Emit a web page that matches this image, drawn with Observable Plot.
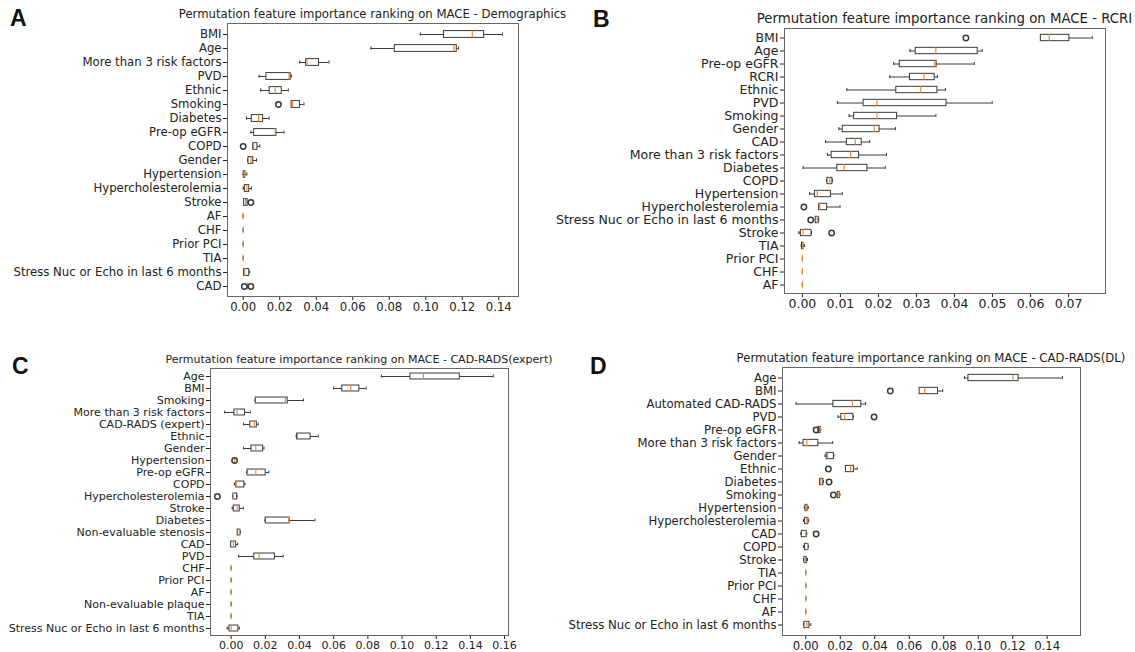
<!DOCTYPE html>
<html><head><meta charset="utf-8">
<script src="https://cdn.jsdelivr.net/npm/d3@7"></script>
<script src="https://cdn.jsdelivr.net/npm/@observablehq/plot@0.6"></script>
<style>
body{margin:0;background:#fff;}
#wrap{position:relative;width:1135px;height:652px;overflow:hidden;background:#fff;}
.panel{position:absolute;}
.title{position:absolute;white-space:nowrap;transform:translateX(-50%);color:#222;font-family:"DejaVu Sans",sans-serif;line-height:1;}
.letter{position:absolute;font-family:"Liberation Sans",Arial,sans-serif;font-weight:bold;font-size:23px;line-height:1;color:#111;}
</style></head><body><div id="wrap"></div>
<script>
// ---------- Panel A: Demographics ----------
const featuresA = ["BMI","Age","More than 3 risk factors","PVD","Ethnic","Smoking","Diabetes","Pre-op eGFR","COPD","Gender","Hypertension","Hypercholesterolemia","Stroke","AF","CHF","Prior PCI","TIA","Stress Nuc or Echo in last 6 months","CAD"];
// [whisker low, q1, median, q3, whisker high]
const statsA = [
  [0.097,0.110,0.1255,0.132,0.142],
  [0.070,0.083,0.1155,0.117,0.118],
  [0.031,0.0345,0.035,0.0415,0.047],
  [0.0087,0.0127,0.0251,0.026,0.0264],
  [0.0096,0.0145,0.0175,0.0211,0.0247],
  [0.0265,0.0265,0.0271,0.0311,0.0333],
  [0.0018,0.0047,0.0084,0.0109,0.0142],
  [0.0042,0.006,0.0175,0.0182,0.0224],
  [0.0055,0.0055,0.0057,0.0078,0.0091],
  [0.0024,0.0029,0.0042,0.0055,0.0073],
  [0.0,0.0003,0.0005,0.0012,0.002],
  [0.0,0.0009,0.002,0.0033,0.0045],
  [0.0002,0.0005,0.0013,0.0024,0.0027],
  [0,0,0,0,0],[0,0,0,0,0],[0,0,0,0,0],[0,0,0,0,0],
  [0.0004,0.0005,0.0009,0.0033,0.0035],
  [0.0024,0.0024,0.0024,0.0024,0.0024]
];
const outliersA = [["Smoking",0.0193],["COPD",0.0],["Stroke",0.0042],["CAD",0.0006],["CAD",0.0042]];
const ticksA = [0,0.02,0.04,0.06,0.08,0.10,0.12,0.14];

// ---------- Panel B: RCRI ----------
const featuresB = ["BMI","Age","Pre-op eGFR","RCRI","Ethnic","PVD","Smoking","Gender","CAD","More than 3 risk factors","Diabetes","COPD","Hypertension","Hypercholesterolemia","Stress Nuc or Echo in last 6 months","Stroke","TIA","Prior PCI","CHF","AF"];
const statsB = [
  [0.0627,0.0627,0.0649,0.0702,0.0762],
  [0.0283,0.0298,0.0351,0.0461,0.0473],
  [0.024,0.0256,0.0348,0.0353,0.0452],
  [0.023,0.0283,0.032,0.0348,0.0355],
  [0.0117,0.0247,0.0311,0.0355,0.0376],
  [0.0092,0.0161,0.0196,0.0379,0.0499],
  [0.0123,0.0136,0.0196,0.0249,0.0351],
  [0.0096,0.0106,0.0189,0.0203,0.0245],
  [0.0061,0.0117,0.0139,0.0156,0.0177],
  [0.0066,0.0077,0.0127,0.0149,0.0221],
  [0.0002,0.0092,0.011,0.0171,0.0218],
  [0.0064,0.0066,0.0072,0.0079,0.0079],
  [0.0019,0.0033,0.0039,0.0075,0.0105],
  [0.0044,0.0044,0.0046,0.0065,0.0099],
  [0.0035,0.0035,0.0039,0.0043,0.0043],
  [-0.0009,-0.0004,0.0002,0.0024,0.0024],
  [-0.0003,-0.0001,0.0001,0.0003,0.0006],
  [0,0,0,0,0],[0,0,0,0,0],[0,0,0,0,0]
];
const outliersB = [["BMI",0.043],["Hypercholesterolemia",0.0004],["Stress Nuc or Echo in last 6 months",0.0022],["Stroke",0.0077]];
const ticksB = [0,0.01,0.02,0.03,0.04,0.05,0.06,0.07];

// ---------- Panel C: CAD-RADS(expert) ----------
const featuresC = ["Age","BMI","Smoking","More than 3 risk factors","CAD-RADS (expert)","Ethnic","Gender","Hypertension","Pre-op eGFR","COPD","Hypercholesterolemia","Stroke","Diabetes","Non-evaluable stenosis","CAD","PVD","CHF","Prior PCI","AF","Non-evaluable plaque","TIA","Stress Nuc or Echo in last 6 months"];
const statsC = [
  [0.0879,0.1049,0.1125,0.1338,0.1534],
  [0.060,0.065,0.070,0.075,0.079],
  [0.014,0.0144,0.0317,0.0331,0.0423],
  [-0.0038,0.0019,0.0035,0.0081,0.0112],
  [0.0073,0.0112,0.0135,0.015,0.0158],
  [0.0381,0.0385,0.0388,0.0465,0.051],
  [0.0073,0.0119,0.0144,0.0187,0.0192],
  [0.002,0.002,0.002,0.002,0.002],
  [0.0092,0.0096,0.0144,0.0202,0.0221],
  [0.0019,0.0029,0.0029,0.0077,0.0081],
  [0.001,0.0013,0.0013,0.0035,0.0035],
  [0.0006,0.0015,0.0035,0.005,0.0071],
  [0.0198,0.0202,0.0337,0.0342,0.049],
  [0.0038,0.0038,0.0048,0.0054,0.0054],
  [-0.0004,0.0,0.0013,0.0029,0.0038],
  [0.0044,0.0135,0.0163,0.0256,0.0304],
  [0,0,0,0,0],[0,0,0,0,0],[0,0,0,0,0],[0,0,0,0,0],[0,0,0,0,0],
  [-0.0023,-0.001,0.0,0.0042,0.0048]
];
const outliersC = [["Hypertension",0.002],["Hypercholesterolemia",-0.0081]];
const ticksC = [0,0.02,0.04,0.06,0.08,0.10,0.12,0.14,0.16];

// ---------- Panel D: CAD-RADS(DL) ----------
const featuresD = ["Age","BMI","Automated CAD-RADS","PVD","Pre-op eGFR","More than 3 risk factors","Gender","Ethnic","Diabetes","Smoking","Hypertension","Hypercholesterolemia","CAD","COPD","Stroke","TIA","Prior PCI","CHF","AF","Stress Nuc or Echo in last 6 months"];
const statsD = [
  [0.092,0.0943,0.1202,0.1234,0.1488],
  [0.066,0.066,0.069,0.0767,0.0794],
  [-0.0056,0.016,0.027,0.0322,0.0347],
  [0.0187,0.0206,0.0225,0.0276,0.0276],
  [0.0073,0.0073,0.0083,0.0087,0.0087],
  [-0.0038,-0.0013,0.0006,0.0073,0.0156],
  [0.0112,0.0121,0.0127,0.0163,0.0163],
  [0.0233,0.0233,0.026,0.0279,0.0298],
  [0.0083,0.0083,0.0087,0.0102,0.0102],
  [0.0185,0.0185,0.0192,0.0198,0.0198],
  [-0.0008,-0.0002,0.0002,0.001,0.0015],
  [-0.0013,-0.0004,0.0006,0.0015,0.0017],
  [-0.0028,-0.0023,0.0,0.0006,0.0006],
  [-0.0013,-0.0004,0.001,0.0015,0.0015],
  [-0.0013,-0.0008,-0.0002,0.0006,0.001],
  [0,0,0,0,0],[0,0,0,0,0],[0,0,0,0,0],[0,0,0,0,0],
  [-0.0013,-0.0008,0.0006,0.0021,0.0029]
];
const outliersD = [["BMI",0.049],["PVD",0.0396],["Pre-op eGFR",0.006],["Ethnic",0.0131],["Diabetes",0.0135],["Smoking",0.016],["CAD",0.006]];
const ticksD = [0,0.02,0.04,0.06,0.08,0.10,0.12,0.14];

const titles = [
  "Permutation feature importance ranking on MACE - Demographics",
  "Permutation feature importance ranking on MACE - RCRI",
  "Permutation feature importance ranking on MACE - CAD-RADS(expert)",
  "Permutation feature importance ranking on MACE - CAD-RADS(DL)"
];
const letters = ["A","B","C","D"];

const wrap = document.getElementById("wrap");
const fmt = d3.format(".2f");

function drawPanel(p) {
  const rows = p.features.map((f, i) => ({f, lo: p.stats[i][0], q1: p.stats[i][1], med: p.stats[i][2], q3: p.stats[i][3], hi: p.stats[i][4]}));
  const outs = p.outliers.map(([f, v]) => ({f, v}));
  const bw = (p.height - p.mT - p.mB) / p.features.length;
  const line = "#3a3a3a";
  const svg = Plot.plot({
    width: p.width, height: p.height,
    marginLeft: p.mL, marginRight: p.mR, marginTop: p.mT, marginBottom: p.mB,
    style: {fontFamily: "DejaVu Sans", fontSize: p.fs + "px", color: "#222", background: "transparent", overflow: "visible"},
    x: {domain: p.domain, ticks: p.ticks, tickFormat: fmt, label: null, tickSize: 4, tickPadding: 2},
    y: {domain: p.features, padding: 0, label: null, tickSize: 4, tickPadding: 2},
    marks: [
      Plot.frame({stroke: "#666"}),
      Plot.ruleY(rows, {y: "f", x1: "lo", x2: "q1", stroke: line}),
      Plot.ruleY(rows, {y: "f", x1: "q3", x2: "hi", stroke: line}),
      Plot.tickX(rows, {y: "f", x: "lo", insetTop: bw * 0.375, insetBottom: bw * 0.375, stroke: line}),
      Plot.tickX(rows, {y: "f", x: "hi", insetTop: bw * 0.375, insetBottom: bw * 0.375, stroke: line}),
      Plot.barX(rows, {y: "f", x1: "q1", x2: "q3", insetTop: bw * 0.25, insetBottom: bw * 0.25, fill: "white", stroke: line}),
      Plot.tickX(rows, {y: "f", x: "med", insetTop: bw * 0.25, insetBottom: bw * 0.25, stroke: "#f08a2c", strokeWidth: 1.2}),
      Plot.dot(outs, {y: "f", x: "v", r: 2.7, stroke: line, fill: "none"})
    ]
  });
  svg.classList.add("panel");
  svg.style.left = p.left + "px";
  svg.style.top = p.top + "px";
  wrap.appendChild(svg);

  const t = document.createElement("div");
  t.className = "title";
  t.textContent = p.title;
  t.style.fontSize = p.tfs + "px";
  t.style.left = p.left + (p.mL + (p.width - p.mR)) / 2 + "px";
  t.style.top = (p.tcy - p.tfs * 0.55) + "px";
  wrap.appendChild(t);

  const l = document.createElement("div");
  l.className = "letter";
  l.textContent = p.letter;
  l.style.left = p.lx + "px";
  l.style.top = p.ly + "px";
  wrap.appendChild(l);
}

drawPanel({features: featuresA, stats: statsA, outliers: outliersA, ticks: ticksA, domain: [-0.0086, 0.1508],
  left: 0, top: 0, width: 530, height: 318, mL: 227, mR: 12, mT: 23, mB: 22, fs: 11.7,
  title: titles[0], tfs: 11.7, tcy: 15, letter: letters[0], lx: 10, ly: 7});
drawPanel({features: featuresB, stats: statsB, outliers: outliersB, ticks: ticksB, domain: [-0.0047, 0.0797],
  left: 540, top: 0, width: 580, height: 318, mL: 244, mR: 15, mT: 28, mB: 25, fs: 12.5,
  title: titles[1], tfs: 13.3, tcy: 19, letter: letters[1], lx: 593, ly: 8});
drawPanel({features: featuresC, stats: statsC, outliers: outliersC, ticks: ticksC, domain: [-0.0121, 0.1623],
  left: 0, top: 330, width: 530, height: 322, mL: 210, mR: 22, mT: 38, mB: 17, fs: 11,
  title: titles[2], tfs: 11, tcy: 360, letter: letters[2], lx: 12, ly: 355});
drawPanel({features: featuresD, stats: statsD, outliers: outliersD, ticks: ticksD, domain: [-0.0135, 0.1593],
  left: 560, top: 330, width: 540, height: 322, mL: 222, mR: 20, mT: 37, mB: 17, fs: 11.7,
  title: titles[3], tfs: 11.7, tcy: 359, letter: letters[3], lx: 590, ly: 355});
</script>
</body></html>
